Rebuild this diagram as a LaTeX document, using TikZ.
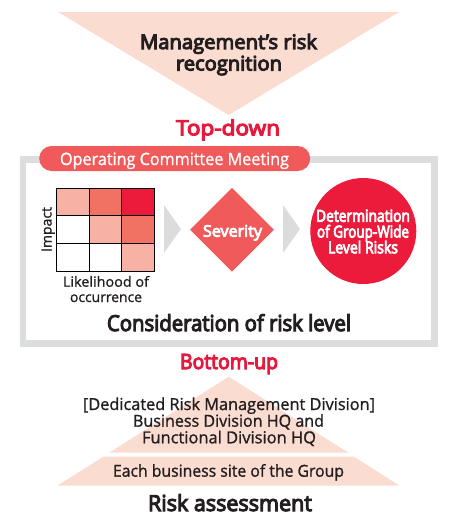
\documentclass[tikz,border=0pt]{standalone}
\usepackage{fontspec}
\setmainfont{Open Sans}
\newfontfamily\medfont[FakeBold=1.2]{Open Sans}
\newfontfamily\semifont[FakeBold=5]{Open Sans}
\usepackage{graphicx}
\usetikzlibrary{shapes.geometric}
\definecolor{peach}{HTML}{FADCD1}
\definecolor{salmon}{HTML}{F05A5A}
\definecolor{crimson}{HTML}{EC1B3C}
\definecolor{redtxt}{HTML}{E6193D}
\definecolor{celllight}{HTML}{F7B2A5}
\definecolor{cellmid}{HTML}{F17162}
\definecolor{celldark}{HTML}{EC1B3C}
\definecolor{framegray}{HTML}{DCDDDE}
\definecolor{chevgray}{HTML}{DCDCDC}
\definecolor{ink}{HTML}{231F20}
\newcommand{\fw}[2]{\resizebox{#1}{\height}{#2}}
\newcommand{\fs}[1]{\fontsize{#1}{#1}\selectfont}
\begin{document}
\begin{tikzpicture}[x=1pt,y=-1pt,
  txt/.style={anchor=base,inner sep=0pt,text=ink},
  cell/.style={draw=black,line width=0.9pt},
  chev/.style={fill=chevgray}]
\useasboundingbox (0,0) rectangle (451,520);
% top triangle
\fill[peach] (58,12) -- (399,12) -- (228.7,115) -- cycle;
\node[txt,font=\semifont\fs{20}] (mg1) at (228.5,49) {\fw{177pt}{Management’s risk}};
\node[txt,font=\semifont\fs{20}] (mg2) at (229,70.5) {\fw{106pt}{recognition}};
\node[txt,font=\semifont\fs{21},text=redtxt] (td) at (228,135.3) {\fw{104pt}{Top-down}};
% frame
\draw[framegray,line width=6.5pt] (23.2,159.3) rectangle (434.7,343.5);
\node[fill=salmon,rounded corners=12.5pt,minimum width=271pt,minimum height=25pt,inner sep=0pt] (pill) at (174.7,158.5) {};
\node[txt,font=\medfont\fs{17},text=white] (pilltxt) at (174.5,165) {\fw{229pt}{Operating Committee Meeting}};
% matrix
\fill[celllight] (56.7,188.3) rectangle (89.3,215);
\fill[cellmid] (89.3,188.3) rectangle (121.7,215);
\fill[celldark] (121.7,188.3) rectangle (154,215);
\fill[white] (56.7,215) rectangle (89.3,243.3);
\fill[celllight] (89.3,215) rectangle (121.7,243.3);
\fill[cellmid] (121.7,215) rectangle (154,243.3);
\fill[white] (56.7,243.3) rectangle (121.7,271);
\fill[celllight] (121.7,243.3) rectangle (154,271);
\draw[cell] (56.7,188.3) rectangle (154,271);
\draw[cell] (89.3,188.3) -- (89.3,271) (121.7,188.3) -- (121.7,271)
  (56.7,215) -- (154,215) (56.7,243.3) -- (154,243.3);
\node[txt,font=\medfont\fs{14},rotate=90] (impact) at (51.5,229.5) {\fw{45pt}{Impact}};
\node[txt,font=\medfont\fs{14}] (lk1) at (106,286.7) {\fw{86pt}{Likelihood of}};
\node[txt,font=\medfont\fs{14}] (lk2) at (106,302) {\fw{72pt}{occurrence}};
% chevrons
\fill[chev] (164,205) -- (181,229) -- (164,253) -- cycle;
\fill[chev] (283,205) -- (300,229) -- (283,253) -- cycle;
% diamond
\node[diamond,fill=salmon,minimum width=84pt,minimum height=84pt,inner sep=0pt,aspect=1] (sev) at (232,229.7) {};
\node[txt,font=\semifont\fs{16},text=white] (sevtxt) at (232.5,236.7) {\fw{59pt}{Severity}};
% circle
\node[circle,fill=crimson,minimum size=106pt,inner sep=0pt] (det) at (363.3,231) {};
\node[txt,font=\semifont\fs{16.5},text=white] (d1) at (363,221.7) {\fw{94pt}{Determination}};
\node[txt,font=\semifont\fs{16.5},text=white] (d2) at (363,237.5) {\fw{92pt}{of Group-Wide}};
\node[txt,font=\semifont\fs{16.5},text=white] (d3) at (363,253.3) {\fw{70pt}{Level Risks}};
\node[txt,font=\semifont\fs{22}] (cons) at (229,331) {\fw{244pt}{Consideration of risk level}};
% bottom
\node[txt,font=\semifont\fs{21},text=redtxt] (bu) at (229,369) {\fw{98pt}{Bottom-up}};
\fill[peach] (228.7,376.7) -- (348.3,452.7) -- (109.3,452.7) -- cycle;
\fill[peach] (103.3,456.7) -- (354.1,456.7) -- (399.5,485.7) -- (57.3,485.7) -- cycle;
\node[txt,font=\medfont\fs{16.5}] (b1) at (229,410) {\fw{292pt}{[Dedicated Risk Management Division]}};
\node[txt,font=\medfont\fs{16.5}] (b2) at (228.5,426.7) {\fw{191pt}{Business Division HQ and}};
\node[txt,font=\medfont\fs{16.5}] (b3) at (229,443.3) {\fw{174pt}{Functional Division HQ}};
\node[txt,font=\medfont\fs{16.5}] (b4) at (228.5,476.7) {\fw{231pt}{Each business site of the Group}};
\node[txt,font=\semifont\fs{22}] (ra) at (230,511) {\fw{164pt}{Risk assessment}};
\end{tikzpicture}
\end{document}
